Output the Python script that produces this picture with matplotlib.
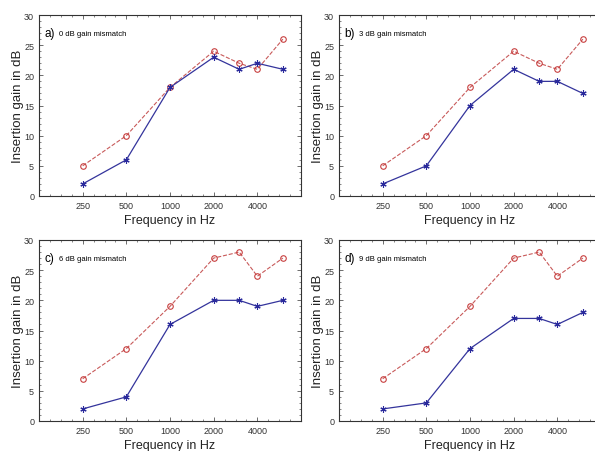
import numpy as np
import matplotlib
matplotlib.use("Agg")
import matplotlib.pyplot as plt
from matplotlib.ticker import FixedLocator, NullFormatter, MultipleLocator

plt.rcParams['font.family'] = ['Liberation Sans', 'DejaVu Sans']

freqs = [250, 500, 1000, 2000, 3000, 4000, 6000]
xticks = [250, 500, 1000, 2000, 4000]

panel_letters = ["a)", "b)", "c)", "d)"]
panel_texts = ["0 dB gain mismatch", "3 dB gain mismatch",
               "6 dB gain mismatch", "9 dB gain mismatch"]

red_a = [5, 10, 18, 24, 22, 21, 26]
blue_a = [2, 6, 18, 23, 21, 22, 21]
red_b = [5, 10, 18, 24, 22, 21, 26]
blue_b = [2, 5, 15, 21, 19, 19, 17]
red_c = [7, 12, 19, 27, 28, 24, 27]
blue_c = [2, 4, 16, 20, 20, 19, 20]
red_d = [7, 12, 19, 27, 28, 24, 27]
blue_d = [2, 3, 12, 17, 17, 16, 18]

reds = [red_a, red_b, red_c, red_d]
blues = [blue_a, blue_b, blue_c, blue_d]

fig = plt.figure(figsize=(5.95, 4.52), dpi=100)

# axes boxes (left, bottom, width, height) in figure fractions
W, H = 595, 452
boxes = [(39, 197), (339, 197), (39, 422), (339, 422)]
aw, ah = 262, 181

minor_x = [125 * 2 ** (k / 4) for k in range(1, 24)]

for i in range(4):
    x0, y0 = boxes[i]
    ax = fig.add_axes([x0 / W, (H - y0) / H, aw / W, ah / H])
    ax.plot(freqs, reds[i], linestyle='--', color='#c85a5a', linewidth=0.8,
            marker='o', markersize=4, markerfacecolor='none',
            markeredgecolor='#c84040', markeredgewidth=0.8)
    ax.plot(freqs, blues[i], linestyle='-', color='#34349c', linewidth=0.9,
            marker=(6, 2, 0), markersize=4.5, markeredgecolor='#2a2a9c',
            markeredgewidth=0.8)
    ax.set_xscale('log')
    ax.set_xlim(125, 8000)
    ax.set_ylim(0, 30)
    ax.xaxis.set_major_locator(FixedLocator(xticks))
    ax.set_xticklabels([str(t) for t in xticks])
    ax.xaxis.set_minor_locator(FixedLocator(minor_x))
    ax.xaxis.set_minor_formatter(NullFormatter())
    ax.yaxis.set_major_locator(MultipleLocator(5))
    ax.yaxis.set_minor_locator(MultipleLocator(1))
    ax.tick_params(which='both', direction='in', top=True, right=True,
                   labelsize=6.5, color='#555555', labelcolor='#333333')
    ax.tick_params(which='major', length=3, width=0.6)
    ax.tick_params(which='minor', length=1.5, width=0.5)
    for s in ax.spines.values():
        s.set_linewidth(0.8)
        s.set_color('#333333')
    ax.set_xlabel("Frequency in Hz", fontsize=9, labelpad=3, color='#222222')
    ax.set_ylabel("Insertion gain in dB", fontsize=9.5, labelpad=0,
                  color='#222222')
    ax.text(0.02, 0.9, panel_letters[i], transform=ax.transAxes,
            fontsize=8.5, va='center', ha='left')
    ax.text(0.078, 0.9, panel_texts[i], transform=ax.transAxes,
            fontsize=5.5, va='center', ha='left')

fig.savefig("out.png", dpi=100)
